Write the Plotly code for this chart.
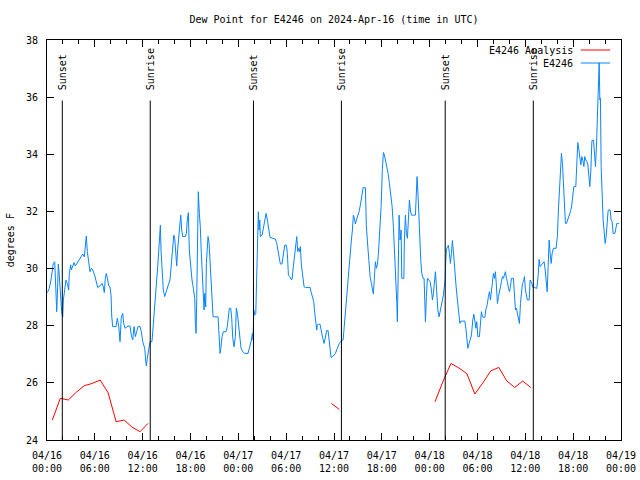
import pandas as pd
import plotly.graph_objects as go

# ---------------- data ----------------
base_time = "2024-04-16 00:00"

# E4246 observations: hours since 04/16 00:00 UTC, dew point (F)
station_hours = [
    0.05, 0.29, 0.50, 0.63, 0.79, 0.97, 1.04, 1.13, 1.22, 1.29,
    1.42, 1.54, 1.63, 1.72, 1.84, 1.97, 2.05, 2.22, 2.38, 2.55,
    2.72, 2.80, 2.97, 3.05, 3.22, 3.39, 3.55, 3.73, 3.98, 4.23,
    4.48, 4.68, 4.81, 4.93, 5.06, 5.23, 5.40, 5.56, 5.73, 5.98,
    6.15, 6.36, 6.65, 6.90, 7.06, 7.19, 7.31, 7.44, 7.62, 7.74,
    7.90, 8.03, 8.12, 8.24, 8.66, 8.82, 9.00, 9.16, 9.32, 9.50,
    9.62, 9.79, 10.16, 10.41, 10.58, 10.75, 10.92, 11.08, 11.25, 11.42,
    11.67, 11.83, 12.01, 12.26, 12.38, 12.46, 12.58, 12.76, 12.92, 13.17,
    13.26, 13.43, 13.59, 13.76, 13.89, 14.02, 14.14, 14.22, 14.30, 14.43,
    14.59, 14.77, 14.93, 15.09, 15.27, 15.43, 15.60, 15.77, 15.90, 16.02,
    16.15, 16.27, 16.40, 16.52, 16.65, 16.78, 16.90, 17.03, 17.35, 17.48,
    17.60, 17.73, 17.85, 18.03, 18.19, 18.36, 18.53, 18.61, 18.70, 18.78,
    18.86, 18.98, 19.11, 19.23, 19.36, 19.49, 19.61, 19.70, 19.79, 19.91,
    19.99, 20.08, 20.20, 20.33, 20.45, 20.58, 20.70, 20.83, 21.46, 21.58,
    21.71, 21.83, 21.96, 22.12, 22.46, 22.62, 22.75, 22.87, 23.05, 23.17,
    23.30, 23.46, 23.63, 23.75, 23.88, 24.05, 24.18, 24.34, 24.55, 24.81,
    25.22, 25.47, 25.64, 25.76, 25.85, 25.94, 26.06, 26.19, 26.26, 26.39,
    26.51, 26.60, 26.69, 26.76, 26.98, 27.14, 27.32, 27.48, 27.64, 27.82,
    27.98, 28.32, 28.65, 28.82, 28.98, 29.14, 29.27, 29.48, 29.65, 29.82,
    30.03, 30.15, 30.28, 30.45, 30.61, 30.74, 30.90, 31.08, 31.20, 31.33,
    31.46, 31.58, 31.71, 31.78, 31.91, 32.08, 32.25, 32.41, 33.00, 33.12,
    33.29, 33.46, 33.59, 33.71, 33.84, 33.91, 34.04, 34.25, 34.42, 34.59,
    34.76, 34.92, 35.09, 35.26, 35.38, 35.51, 35.63, 35.92, 36.17, 36.42,
    36.67, 36.93, 37.14, 37.23, 37.35, 37.48, 37.60, 37.73, 37.85, 38.02,
    38.18, 38.31, 38.43, 38.56, 38.68, 38.81, 38.98, 39.15, 39.31, 39.49,
    39.65, 39.94, 40.06, 40.24, 40.40, 40.53, 40.69, 40.82, 40.94, 41.07,
    41.19, 41.32, 41.44, 41.57, 41.75, 41.91, 42.07, 42.20, 42.32, 42.45,
    42.62, 42.79, 42.95, 43.12, 43.29, 43.45, 43.63, 43.79, 43.88, 43.95,
    44.04, 44.17, 44.29, 44.42, 44.50, 44.76, 44.83, 44.96, 45.08, 45.21,
    45.33, 45.46, 45.58, 45.71, 46.21, 46.30, 46.42, 46.55, 46.71, 46.89,
    47.01, 47.18, 47.30, 47.39, 47.47, 47.59, 47.72, 47.89, 48.06, 48.22,
    48.35, 48.47, 48.60, 48.72, 48.85, 49.02, 49.18, 49.35, 49.47, 49.60,
    49.72, 49.85, 49.94, 50.02, 50.10, 50.23, 50.35, 50.48, 50.60, 50.73,
    50.85, 50.98, 51.16, 51.32, 51.48, 51.66, 51.79, 51.91, 52.41, 52.54,
    52.66, 52.79, 52.95, 53.11, 53.24, 53.41, 53.54, 53.66, 53.79, 53.91,
    54.04, 54.24, 54.37, 54.49, 54.62, 54.74, 54.92, 55.04, 55.21, 55.37,
    55.50, 55.62, 55.75, 55.87, 56.00, 56.12, 56.25, 56.38, 56.50, 56.63,
    56.75, 56.88, 57.00, 57.13, 57.25, 57.38, 57.50, 57.63, 57.75, 57.88,
    58.01, 58.13, 58.26, 58.51, 58.63, 58.76, 58.88, 59.01, 59.13, 59.26,
    59.39, 59.51, 59.64, 59.76, 59.89, 60.01, 60.14, 60.26, 60.48, 60.60,
    60.81, 60.94, 61.10, 61.27, 61.44, 61.60, 61.73, 61.85, 62.02, 62.20,
    62.36, 62.49, 62.61, 62.74, 62.86, 62.99, 63.11, 63.24, 63.36, 63.53,
    63.86, 64.03, 64.15, 64.28, 64.40, 64.53, 64.66, 64.78, 64.91, 65.03,
    65.16, 65.33, 65.50, 65.66, 65.83, 65.96, 66.08, 66.33, 66.46, 66.58,
    66.71, 66.83, 66.96, 67.09, 67.21, 67.34, 67.46, 67.59, 67.72, 67.84,
    67.97, 68.09, 68.22, 68.35, 68.55, 68.67, 68.80, 68.92, 69.05, 69.18,
    69.26, 69.35, 69.42, 69.51, 69.64, 69.76, 69.89, 70.01, 70.14, 70.26,
    70.39, 70.64, 70.76, 70.89, 71.01, 71.23, 71.35, 71.48, 71.73,
]
station_dewpoint = [
    29.16, 29.31, 29.60, 29.89, 30.18, 30.24, 29.72, 28.90, 28.49, 28.96,
    30.16, 29.77, 29.25, 28.78, 28.49, 28.30, 28.90, 29.25, 29.60, 29.48,
    29.25, 29.83, 30.13, 29.95, 30.07, 30.21, 30.09, 30.18, 30.30, 30.41,
    30.51, 30.41, 30.88, 31.14, 30.59, 30.13, 29.89, 30.01, 29.95, 29.77,
    29.54, 29.34, 29.39, 29.48, 29.36, 29.16, 29.66, 29.83, 29.60, 29.39,
    29.36, 29.07, 28.34, 27.97, 27.97, 28.26, 27.97, 27.44, 28.30, 28.43,
    28.08, 27.91, 27.99, 27.99, 27.67, 27.50, 27.97, 27.62, 27.79, 27.97,
    27.97, 27.79, 27.44, 27.21, 26.80, 26.59, 26.86, 27.15, 27.44, 27.44,
    27.79, 28.66, 29.19, 29.60, 30.07, 30.53, 31.23, 31.52, 30.65, 29.83,
    29.25, 29.02, 29.19, 29.36, 29.48, 29.60, 30.24, 30.71, 31.17, 31.06,
    30.41, 30.09, 30.71, 31.12, 31.64, 31.87, 31.35, 31.12, 31.12, 31.23,
    31.70, 31.96, 30.65, 29.95, 29.60, 29.31, 28.96, 28.08, 27.73, 28.96,
    31.47, 32.69, 31.93, 31.47, 30.53, 29.83, 28.90, 28.55, 29.13, 28.66,
    30.18, 30.71, 31.12, 30.88, 30.18, 29.60, 28.66, 28.31, 28.31, 27.73,
    27.03, 27.26, 27.62, 27.79, 27.79, 27.97, 28.38, 28.61, 28.61, 28.26,
    27.56, 27.26, 27.62, 28.61, 28.43, 27.97, 27.50, 27.21, 27.09, 27.03,
    27.03, 27.26, 27.50, 27.73, 27.50, 28.55, 28.37, 28.43, 29.25, 31.00,
    31.99, 31.35, 31.70, 31.12, 31.17, 31.41, 31.64, 31.93, 31.70, 31.41,
    31.09, 31.06, 31.03, 30.88, 30.59, 30.36, 30.16, 30.16, 30.48, 30.82,
    30.82, 30.53, 29.77, 29.72, 29.62, 29.62, 30.07, 30.48, 30.88, 31.12,
    30.59, 30.71, 30.59, 30.77, 30.13, 29.77, 29.36, 29.34, 29.34, 29.19,
    29.02, 28.84, 28.43, 28.03, 27.85, 28.03, 28.05, 28.05, 27.73, 27.56,
    27.38, 27.56, 27.83, 27.83, 27.50, 27.21, 26.89, 26.94, 27.03, 27.21,
    27.38, 27.47, 27.50, 27.79, 28.20, 28.67, 29.13, 29.60, 30.18, 30.65,
    31.00, 31.35, 31.87, 31.76, 31.56, 31.70, 31.84, 31.99, 32.23, 32.52,
    32.83, 32.83, 31.47, 30.77, 30.18, 29.72, 29.48, 29.25, 29.11, 29.72,
    30.24, 30.01, 30.13, 30.53, 31.23, 32.17, 33.51, 34.06, 33.98, 33.80,
    33.63, 33.33, 32.98, 32.63, 32.17, 31.47, 30.41, 29.77, 28.78, 28.14,
    29.60, 31.87, 31.00, 31.35, 29.66, 29.66, 31.00, 31.87, 31.23, 31.06,
    31.70, 32.40, 32.05, 31.87, 31.87, 32.87, 33.22, 32.52, 31.12, 30.24,
    29.83, 29.66, 29.66, 28.55, 28.14, 29.02, 29.66, 29.60, 29.54, 29.25,
    28.90, 29.13, 29.60, 29.89, 29.36, 28.55, 28.31, 28.61, 28.78, 28.90,
    29.07, 29.31, 29.60, 30.30, 30.65, 30.77, 30.82, 30.53, 30.18, 30.53,
    30.98, 30.59, 29.83, 29.36, 28.90, 28.31, 28.08, 28.16, 28.16, 27.91,
    27.44, 27.21, 27.38, 27.50, 27.67, 28.20, 28.40, 28.20, 27.91, 28.14,
    27.62, 27.62, 28.20, 28.49, 28.31, 28.29, 28.29, 28.55, 28.73, 29.02,
    29.19, 28.90, 29.19, 29.48, 29.83, 29.66, 29.89, 29.36, 28.78, 29.02,
    29.25, 29.36, 29.54, 29.72, 29.66, 29.77, 29.89, 29.66, 29.54, 29.31,
    29.19, 29.36, 29.66, 29.66, 29.02, 28.55, 28.61, 28.43, 28.31, 28.08,
    28.78, 29.19, 29.48, 29.54, 29.72, 29.25, 29.07, 28.90, 28.90, 29.60,
    29.48, 29.34, 29.34, 29.31, 29.31, 29.72, 30.32, 30.07, 30.13, 30.16,
    30.24, 29.95, 29.60, 29.19, 30.07, 31.00, 30.53, 30.18, 30.53, 30.71,
    30.71, 31.17, 32.05, 32.75, 33.68, 34.03, 33.68, 32.92, 32.52, 31.58,
    31.58, 31.70, 31.87, 31.99, 32.23, 32.63, 32.87, 32.87, 34.03, 34.41,
    34.17, 33.98, 33.63, 33.92, 33.80, 33.57, 33.92, 33.80, 33.74, 33.63,
    33.10, 32.87, 33.45, 34.48, 34.50, 34.15, 33.57, 34.27, 35.31, 36.77,
    37.20, 35.90, 35.96, 33.57, 32.17, 31.70, 31.29, 30.88, 31.12, 31.76,
    32.05, 32.05, 31.70, 31.64, 31.23, 31.23, 31.47, 31.58, 31.58,
]
assert len(station_hours) == len(station_dewpoint)

# E4246 Analysis (hourly, three separate runs)
analysis_hours_1 = [0.67, 1.67, 2.67, 3.67, 4.67, 5.67, 6.67, 7.67, 8.67, 9.67, 10.67, 11.67, 12.67]
analysis_vals_1 = [24.70, 25.46, 25.40, 25.67, 25.90, 25.98, 26.10, 25.65, 24.64, 24.70, 24.45, 24.29, 24.58]
analysis_hours_2 = [35.67, 36.67]
analysis_vals_2 = [25.28, 25.07]
analysis_hours_3 = [48.67, 49.67, 50.67, 51.67, 52.67, 53.67, 54.67, 55.67, 56.67, 57.67, 58.67, 59.67, 60.67]
analysis_vals_3 = [25.34, 26.05, 26.68, 26.52, 26.32, 25.61, 26.00, 26.42, 26.54, 26.07, 25.84, 26.06, 25.84]

sunset_hours = [1.92, 25.90, 49.95]
sunrise_hours = [12.95, 36.93, 61.00]

tick_hours = list(range(0, 73, 6))
tick_labels = ["04/16<br>00:00", "04/16<br>06:00", "04/16<br>12:00", "04/16<br>18:00",
               "04/17<br>00:00", "04/17<br>06:00", "04/17<br>12:00", "04/17<br>18:00",
               "04/18<br>00:00", "04/18<br>06:00", "04/18<br>12:00", "04/18<br>18:00",
               "04/19<br>00:00"]
y_ticks = [24, 26, 28, 30, 32, 34, 36, 38]

# ---------------- build ----------------
t0 = pd.Timestamp(base_time)


def to_time(hours):
    return [t0 + pd.Timedelta(hours=h) for h in hours]


an_x, an_y = [], []
for hh, vv in [(analysis_hours_1, analysis_vals_1),
               (analysis_hours_2, analysis_vals_2),
               (analysis_hours_3, analysis_vals_3)]:
    an_x += to_time(hh) + [None]
    an_y += vv + [None]

RED = "#ff0000"
BLUE = "#0a84ff"

fig = go.Figure()
fig.add_trace(go.Scatter(x=an_x, y=an_y, mode="lines", name="E4246 Analysis",
                         line=dict(color=RED, width=1), connectgaps=False))
fig.add_trace(go.Scatter(x=to_time(station_hours), y=station_dewpoint, mode="lines",
                         name="E4246", line=dict(color=BLUE, width=1)))

FONT = "DejaVu Sans Mono"
shapes = []
annotations = []
for label, hrs in [("Sunset", sunset_hours), ("Sunrise", sunrise_hours)]:
    for t in to_time(hrs):
        shapes.append(dict(type="line", xref="x", yref="y", x0=t, x1=t, y0=24, y1=35.88,
                           line=dict(color="black", width=1)))
        annotations.append(dict(x=t, y=36.18, xref="x", yref="y", text=label,
                                textangle=-90, showarrow=False, xanchor="center",
                                yanchor="bottom", font=dict(family=FONT, size=10, color="black")))

# gnuplot-style legend (text left of sample line)
for i, (name, col) in enumerate([("E4246 Analysis", RED), ("E4246", BLUE)]):
    py = 0.975 - i * 0.0325
    annotations.append(dict(x=0.919, y=py, xref="paper", yref="paper", text=name,
                            showarrow=False, xanchor="right", yanchor="middle",
                            font=dict(family=FONT, size=10, color="black")))
    shapes.append(dict(type="line", xref="paper", yref="paper", x0=0.930, x1=0.981,
                       y0=py, y1=py, line=dict(color=col, width=1)))

annotations.append(dict(x=-0.064, y=0.5, xref="paper", yref="paper", text="degrees F",
                        textangle=-90, showarrow=False, xanchor="center", yanchor="middle",
                        font=dict(family=FONT, size=10, color="black")))

minor_vals = to_time([h for h in range(0, 73, 2) if h % 6 != 0])

fig.update_layout(
    width=640, height=480,
    margin=dict(l=47, r=19, t=40, b=40, autoexpand=False),
    plot_bgcolor="white", paper_bgcolor="white",
    font=dict(family=FONT, size=10, color="black"),
    showlegend=False,
    title=dict(text="Dew Point for E4246 on 2024-Apr-16 (time in UTC)",
               x=0.5, xref="paper", xanchor="center",
               y=1 - 19 / 480, yref="container", yanchor="middle",
               font=dict(family=FONT, size=10, color="black")),
    shapes=shapes, annotations=annotations,
)
fig.update_xaxes(
    type="date", range=[t0, t0 + pd.Timedelta(hours=72)],
    tickmode="array", tickvals=to_time(tick_hours), ticktext=tick_labels,
    ticks="inside", ticklen=7, tickcolor="black", tickwidth=1,
    showline=True, linecolor="black", linewidth=1, mirror="ticks",
    showgrid=False, zeroline=False, automargin=False, ticklabelstandoff=6,
    minor=dict(tickmode="array", tickvals=minor_vals, ticks="inside", ticklen=4,
               tickcolor="black", tickwidth=1, showgrid=False),
    tickfont=dict(family=FONT, size=10, color="black"),
)
fig.update_yaxes(
    range=[24, 38], tickmode="array", tickvals=y_ticks,
    ticks="inside", ticklen=7, tickcolor="black", tickwidth=1,
    showline=True, linecolor="black", linewidth=1, mirror="ticks",
    showgrid=False, zeroline=False, ticklabelstandoff=6, automargin=False,
    tickfont=dict(family=FONT, size=10, color="black"),
)

fig.write_html("out.html", config={"displayModeBar": False},
               post_script="document.body.style.margin='0';document.body.style.overflow='hidden';")
